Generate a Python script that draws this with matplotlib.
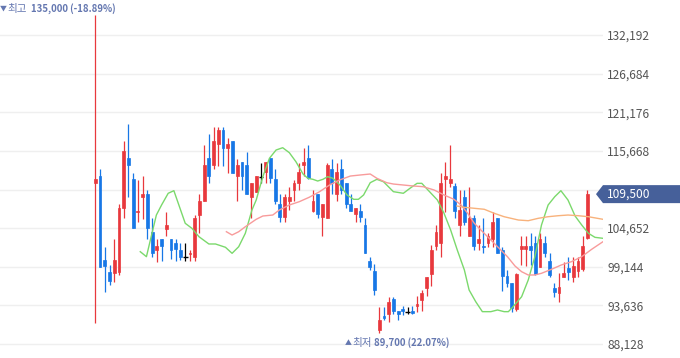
import matplotlib
matplotlib.use('Agg')
import matplotlib.pyplot as plt
from matplotlib.patches import Polygon
from matplotlib.transforms import IdentityTransform
import numpy as np

plt.rcParams['font.family'] = ['Noto Sans CJK KR', 'DejaVu Sans']

# daily candles, oldest first (KRW)
opens = [111100, 112100, 100100, 98350, 98200, 98350, 107550, 114600, 111650, 106950,
         109050, 109500, 104100, 101550, 103050, 104550, 103050, 102600, 101550, 100600,
         100950, 100600, 106500, 108550, 114700, 113650, 116650, 118650, 116100, 117100,
         112150, 114100, 113650, 109150, 109850, 112000, 112700, 114700, 111600, 108050,
         106200, 108550, 110100, 111150, 113650, 114700, 107150, 109500, 106200, 106050,
         113050, 109500, 113050, 111050, 108100, 106600, 107150, 105100, 100000, 98600,
         90100, 92100, 92350, 94550, 92900, 93100, 92750, 92900, 93550, 94400,
         96050, 98100, 102100, 102600, 111600, 111150, 110650, 105100, 109050, 103550,
         106050, 102600, 102100, 102600, 103050, 106050, 101550, 97800, 96800, 93100,
         101650, 101650, 102100, 102600, 99150, 102600, 100000, 96150, 95450, 97700,
         98900, 97700, 98600, 98800, 103200]
closes = [111650, 99150, 99300, 97150, 100100, 107550, 115650, 113650, 104650, 107150,
          109500, 104650, 101150, 102150, 102100, 105050, 101550, 101650, 100600, 100600,
          101050, 106150, 108550, 113650, 112150, 117100, 118650, 116100, 116650, 112550,
          113650, 112150, 109500, 111150, 112100, 112000, 114100, 111750, 108550, 106200,
          109050, 109050, 111150, 112700, 114100, 111750, 108550, 106600, 108100, 113650,
          111150, 112700, 110100, 108100, 107150, 107550, 106200, 101150, 99050, 95850,
          91550, 91800, 94100, 92900, 92400, 92850, 92750, 92550, 93850, 95350,
          97700, 101550, 104150, 111150, 112100, 111600, 107150, 107250, 105550, 106050,
          102100, 103050, 102000, 103550, 105550, 101050, 97800, 96800, 93200, 98100,
          102100, 102100, 101550, 98100, 103050, 101150, 97950, 95600, 96300, 98200,
          98450, 99250, 100000, 102100, 109500]
highs = [135000, 113050, 102000, 99350, 103050, 108050, 117100, 119500, 112550, 111500,
         112100, 110100, 106050, 103050, 103050, 107000, 103050, 103050, 102600, 102600,
         101550, 106500, 109500, 116500, 118050, 119050, 119050, 119050, 117450, 117100,
         114450, 114100, 115450, 111150, 112100, 114000, 114100, 114700, 113050, 109500,
         109500, 110550, 111500, 114000, 116100, 116500, 110100, 109500, 108100, 114000,
         114450, 114000, 114450, 111050, 109500, 107550, 108050, 106050, 100600, 99550,
         93450, 93450, 94900, 94900, 92900, 93550, 93450, 93550, 94950, 95850,
         97700, 102250, 105100, 112550, 114100, 116500, 111050, 110100, 110100, 110450,
         106500, 105100, 106050, 104000, 107000, 106050, 102000, 98700, 96800, 98200,
         103550, 103550, 104000, 103550, 104000, 103550, 101050, 96850, 98300, 99850,
         100600, 100600, 100600, 103550, 110100]
lows = [91100, 99050, 95600, 96550, 97000, 97950, 106050, 109050, 104650, 105550,
        105900, 103050, 100600, 99850, 100000, 103550, 100200, 100000, 100100, 100000,
        100000, 100000, 104000, 108550, 111050, 113100, 113500, 113500, 112550, 112550,
        108550, 110100, 109500, 106050, 109850, 111150, 111050, 111150, 108100, 105550,
        105550, 107250, 108550, 110100, 112100, 111600, 107000, 106050, 103550, 106050,
        109500, 108550, 109500, 107550, 107150, 105550, 105550, 101050, 98700, 95100,
        89700, 91550, 91300, 92350, 91550, 92250, 92400, 92400, 92750, 92900,
        94950, 96400, 101550, 100600, 107000, 110550, 106050, 103550, 105100, 103550,
        101550, 101550, 101050, 102000, 102000, 101050, 95750, 96300, 92750, 92900,
        99400, 99250, 99400, 97950, 99050, 100600, 97700, 94900, 94150, 97650,
        97250, 97000, 97650, 98600, 103050]

# moving-average lines (x = candle index)
ma_short_x = [9.5, 10.8, 11.8, 12.9, 14.0, 15.4, 16.6, 19.0, 20.4, 21.9, 24.0, 25.4, 27.5, 28.9,
              30.3, 31.7, 33.1, 34.0, 35.4, 36.8, 38.2, 39.6, 41.0, 42.4, 43.9, 44.9, 46.0,
              47.0, 48.1, 49.1, 50.2, 51.7, 53.2, 54.6, 55.6, 56.7, 58.1, 59.5, 60.9, 63.0,
              65.1, 66.5, 68.0, 69.0, 70.3, 72.3, 73.7, 75.1, 76.5, 78.0, 79.0, 80.4, 81.8,
              83.6, 85.0, 86.4, 87.3, 88.3, 90.1, 91.5, 92.9, 94.3, 95.7, 97.1, 98.4, 99.9,
              101.4, 102.8, 104.2, 105.6, 107.3]
ma_short = [101290, 100580, 103430, 106520, 107950, 109620, 109990, 105340, 104630, 103430,
            102390, 102390, 101920, 101060, 102000, 103910, 107240, 108660, 111990, 114610,
            115790, 116120, 115410, 114120, 112370, 111760, 111610, 111370, 111610, 111990,
            111760, 110800, 109380, 108760, 108760, 109380, 111130, 111610, 111270, 109850,
            109620, 110330, 111040, 111040, 110090, 108660, 106770, 104380, 101530, 98680,
            95830, 94160, 92740, 92740, 92980, 92740, 92740, 93450, 94870, 97260,
            100580, 105100, 107950, 109130, 109990, 108660, 106380, 105100, 103920, 103340,
            103200]
ma_mid_x = [27.7, 28.9, 30.3, 31.7, 34.0, 35.4, 37.5, 38.9, 41.0, 43.1, 45.2, 47.4, 49.5,
            51.6, 53.9, 56.0, 58.1, 59.5, 61.6, 63.0, 65.1, 67.2, 69.3, 71.6, 73.7, 75.8,
            77.3, 78.7, 80.1, 81.5, 82.9, 84.3, 85.7, 87.1, 88.7, 90.1, 91.5, 92.9, 94.3,
            96.4, 98.5, 100.6, 102.8, 104.9, 107.3]
ma_mid = [104140, 103670, 104140, 104850, 105910, 106380, 106520, 107240, 107950, 108420,
          109050, 109850, 110800, 111510, 112080, 112230, 112370, 111760, 111130, 110940,
          110800, 110660, 110560, 110090, 109380, 108760, 107950, 106770, 105340, 104380,
          103430, 102490, 101530, 100580, 99250, 98440, 97970, 97970, 98210, 98780,
          99400, 99860, 100580, 101630, 102720]
ma_long_x = [76.4, 78.0, 80.1, 82.2, 84.3, 86.4, 89.4, 91.5, 93.6, 95.7, 97.8, 99.9, 102.1,
             104.2, 107.3]
ma_long = [107810, 107620, 107480, 107340, 106770, 106280, 105810, 105710, 106050, 106280,
           106420, 106520, 106420, 106280, 105910]

yticks = [88128, 93636, 99144, 104652, 110160, 115668, 121176, 126684, 132192]

RED = '#e8383d'
BLUE = '#1777e6'
NOTE = '#6477b0'

W, H = 680, 358
fig = plt.figure(figsize=(W / 100, H / 100), dpi=100)
ax = fig.add_axes([0, 0, 603 / W, 1])

idx = np.arange(len(opens))
o = np.array(opens)
c = np.array(closes)
colors = np.where(c > o, RED, np.where(c < o, BLUE, '#000000'))

ax.vlines(idx, lows, highs, colors=colors, lw=0.9, zorder=3)
ax.bar(idx, np.abs(c - o), bottom=np.minimum(o, c), width=0.6,
       color=colors, edgecolor=colors, lw=0.5, zorder=4)
doji = c == o
ax.hlines(c[doji], idx[doji] - 0.5, idx[doji] + 0.5, colors='#000000', lw=1, zorder=4)

ax.plot(ma_short_x, ma_short, color='#7bd96c', lw=1.0, zorder=5)
ax.plot(ma_mid_x, ma_mid, color='#f89b9b', lw=1.0, zorder=5)
ax.plot(ma_long_x, ma_long, color='#f8b27c', lw=1.0, zorder=5)

last = closes[-1]

ax.set_xlim(-20.15, 107.3)
ax.set_ylim(86132, 137183)
ax.set_yticks(yticks)
# the tick right under the last-price tag is hidden by the tag
ax.set_yticklabels(['' if abs(v - last) < 1500 else f'{v:,}' for v in yticks])
ax.yaxis.tick_right()
ax.tick_params(axis='y', length=0, pad=3, labelsize=8.6, labelcolor='#555555')
ax.set_xticks([])
ax.grid(axis='y', color='#efefef', lw=1, zorder=0)
for s in ax.spines.values():
    s.set_visible(False)

# last price tag on the right axis
ypix = ax.transData.transform((0, last))[1]
tag = Polygon([(596, ypix), (603, ypix + 9), (680, ypix + 9), (680, ypix - 9), (603, ypix - 9)],
              closed=True, transform=IdentityTransform(), facecolor='#46609a',
              edgecolor='none', zorder=10)
fig.add_artist(tag)
fig.text(607 / W, ypix / H, f'{last:,}', color='white', fontsize=8.6,
         va='center', ha='left', zorder=11)

# max / min notes
hi = max(highs)
lo = min(lows)
fig.text(0 / W, 1 - 9 / H, '▼', color=NOTE, fontsize=5, va='center', ha='left')
fig.text(7 / W, 1 - 9 / H, '최고', color=NOTE, fontsize=7.6, va='center', ha='left')
fig.text(31 / W, 1 - 9 / H, f'{hi:,} ({(last / hi - 1) * 100:.2f}%)', color=NOTE,
         fontsize=6.9, fontweight='bold', va='center', ha='left')

fig.text(345 / W, 1 - 343 / H, '▲', color=NOTE, fontsize=5, va='center', ha='left')
fig.text(352 / W, 1 - 343 / H, '최저', color=NOTE, fontsize=7.6, va='center', ha='left')
fig.text(374 / W, 1 - 343 / H, f'{lo:,} ({(last / lo - 1) * 100:.2f}%)', color=NOTE,
         fontsize=6.9, fontweight='bold', va='center', ha='left')

fig.savefig('out.png', dpi=100)
